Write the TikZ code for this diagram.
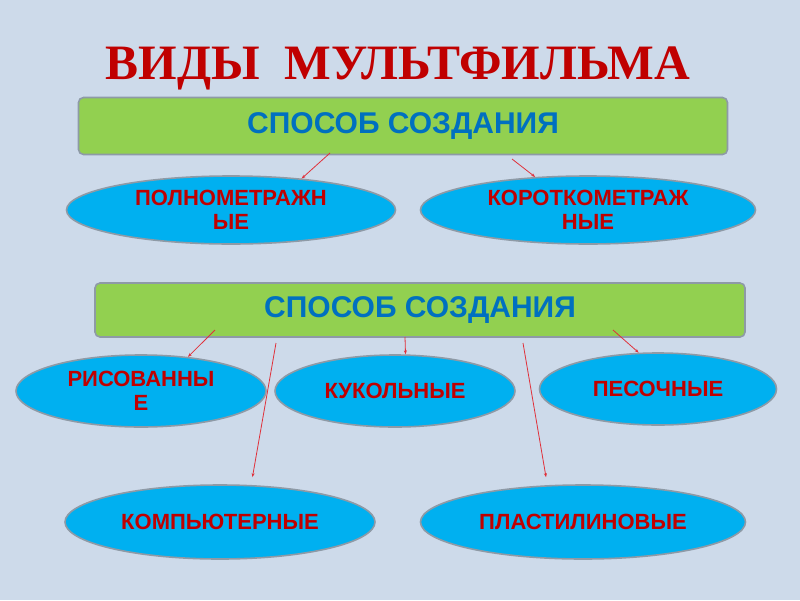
\documentclass[tikz,border=0pt]{standalone}
\usepackage{fontspec}
\setmainfont{Liberation Serif}
\setsansfont{Liberation Sans}
\usetikzlibrary{arrows.meta, shapes.geometric}

\definecolor{bgblue}{HTML}{CDDAEA}
\definecolor{titlered}{HTML}{C00000}
\definecolor{boxgreen}{HTML}{92D050}
\definecolor{textblue}{HTML}{0070C0}
\definecolor{ovalblue}{HTML}{00B0F0}
\definecolor{rimgrey}{HTML}{8E9AA6}
\definecolor{linkred}{HTML}{E0303A}

\begin{document}
\begin{tikzpicture}[x=1pt,y=-1pt,
	headbox/.style={draw=rimgrey, line width=1.6pt, fill=boxgreen, rounded corners=5pt,
		inner sep=0pt, text=textblue, font=\sffamily\bfseries\fontsize{30}{32}\selectfont},
	kindoval/.style={ellipse, draw=rimgrey, line width=1.6pt, fill=ovalblue, inner sep=0pt,
		text=titlered, align=center, font=\sffamily\bfseries\fontsize{22}{24}\selectfont},
	link/.style={draw=linkred, line width=0.8pt, -{Stealth[length=4pt,width=3pt]}}]
			\useasboundingbox (0,0) rectangle (800,600);
			\fill[bgblue] (0,0) rectangle (800,600);
			% title
			\node[text=titlered, font=\rmfamily\bfseries\fontsize{49.5}{52}\selectfont] (title) at (398,68) {ВИДЫ\ \ МУЛЬТФИЛЬМА};
			% first group
			\node[headbox, minimum width=649pt, minimum height=57pt] (way1) at (403,126) {СПОСОБ СОЗДАНИЯ};
			\node[kindoval, minimum width=329pt, minimum height=68pt] (full) at (231,210) {ПОЛНОМЕТРАЖН\\ЫЕ};
			\node[kindoval, minimum width=335pt, minimum height=68pt] (short) at (588,210) {КОРОТКОМЕТРАЖ\\НЫЕ};
			\coordinate (w1a) at (330,153);
			\coordinate (w1b) at (512,159);
			\draw[link] (w1a) -- (full.24);
			\draw[link] (w1b) -- (short.148);
			% second group
			\node[headbox, minimum width=650pt, minimum height=54pt] (way2) at (420,310) {СПОСОБ СОЗДАНИЯ};
			\node[kindoval, minimum width=250pt, minimum height=72pt] (drawn) at (141,391) {РИСОВАННЫ\\Е};
			\node[kindoval, minimum width=240pt, minimum height=72pt] (puppet) at (395,391) {КУКОЛЬНЫЕ};
			\node[kindoval, minimum width=237pt, minimum height=72pt] (sand) at (658,389) {ПЕСОЧНЫЕ};
			\node[kindoval, minimum width=310pt, minimum height=74pt] (comp) at (220,522) {КОМПЬЮТЕРНЫЕ};
			\node[kindoval, minimum width=325pt, minimum height=74pt] (clay) at (583,522) {ПЛАСТИЛИНОВЫЕ};
			\coordinate (w2a) at (215,330);
			\coordinate (w2b) at (276,343);
			\coordinate (w2c) at (405,337);
			\coordinate (w2d) at (523,343);
			\coordinate (w2e) at (613,330);
			\draw[link] (w2a) -- (drawn.36);
			\draw[link, shorten >=8pt] (w2b) -- (comp.50);
			\draw[link] (w2c) -- (puppet.74);
			\draw[link, shorten >=8pt] (w2d) -- (clay.134);
			\draw[link] (w2e) -- (sand.118);
		\end{tikzpicture}
\end{document}
